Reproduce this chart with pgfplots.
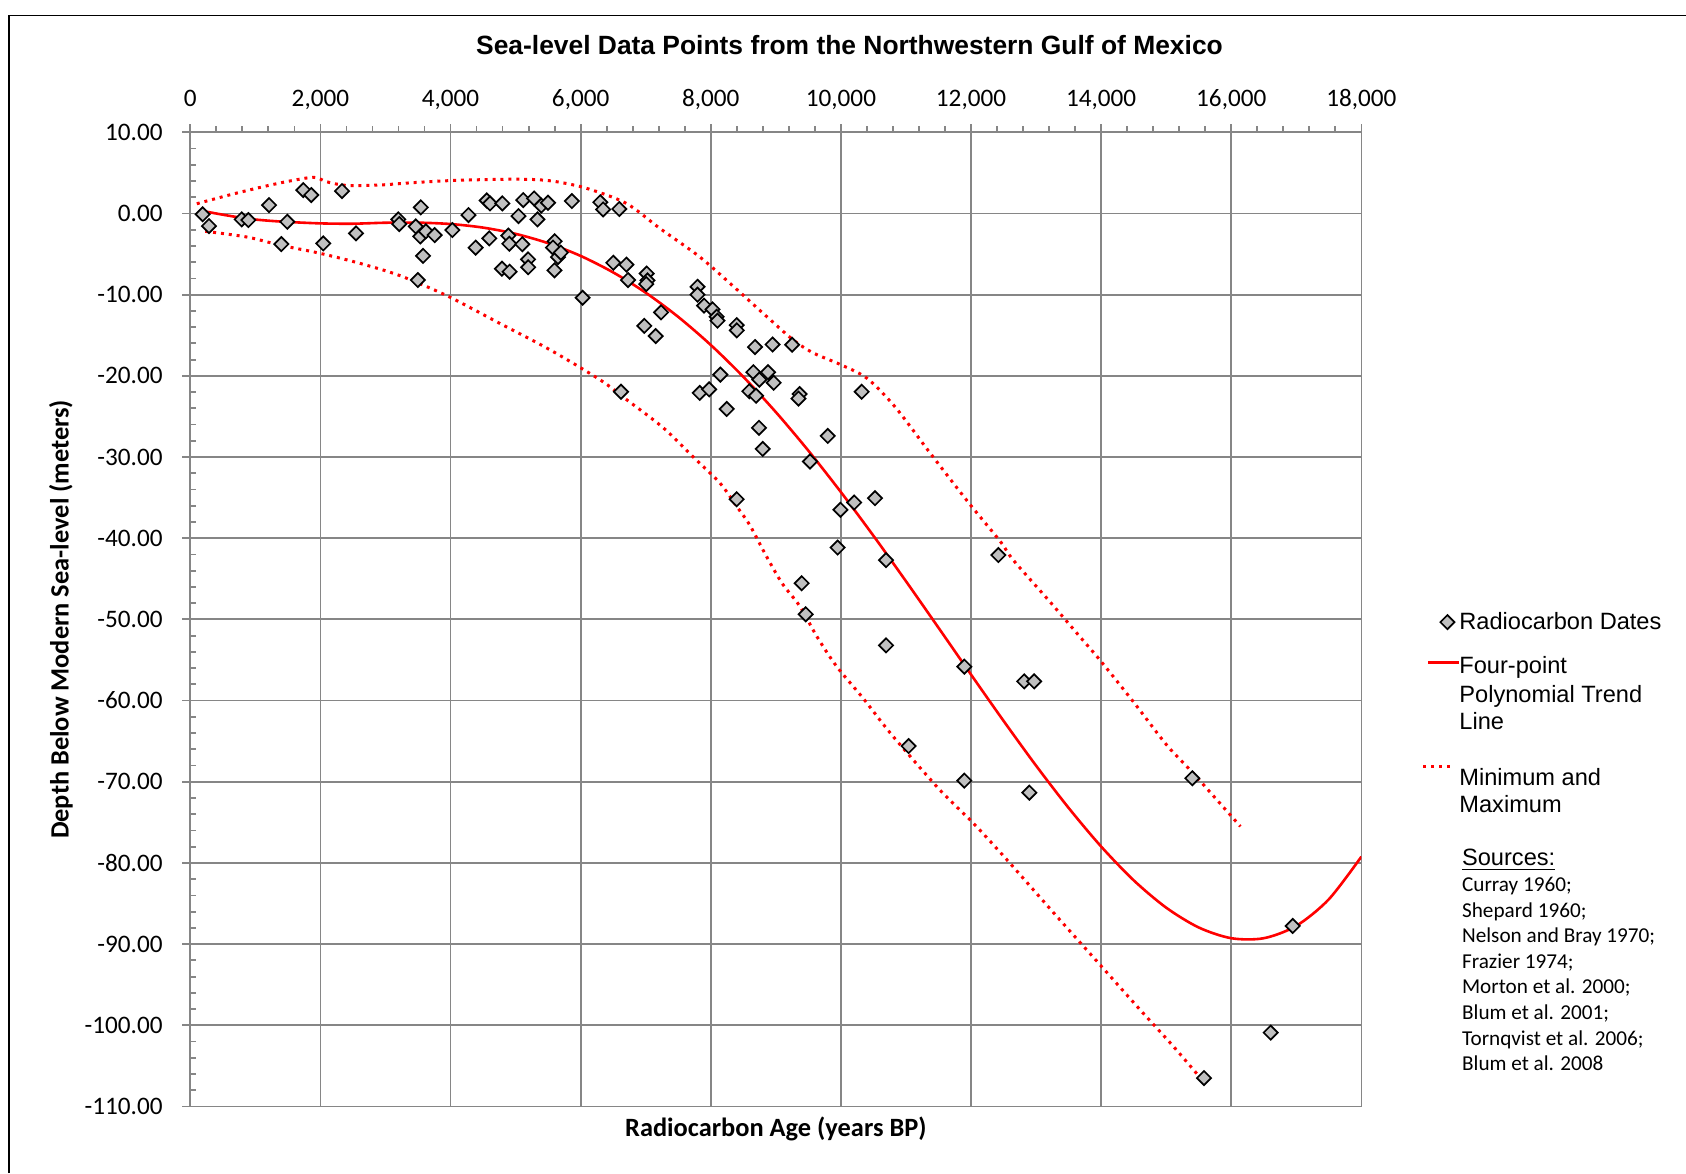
\documentclass[border=0pt]{standalone}
\usepackage{pgfplots}
\usepackage{pgfplotstable}
\pgfplotsset{compat=1.18}
\usepackage{fontspec}
\setmainfont{Carlito}
\newfontfamily\arialfont{Liberation Sans}

\definecolor{gridgray}{RGB}{134,134,134}
\definecolor{markgray}{RGB}{192,192,192}
\definecolor{trendred}{RGB}{255,0,0}

% radiocarbon dates: age (years BP), depth below modern sea level (m)
\pgfplotstableread{
age depth
190 -0.1
287 -1.55
790 -0.73
892 -0.81
1210 1.03
1399 -3.77
1491 -1.02
1737 2.88
1860 2.27
2044 -3.69
2332 2.76
2547 -2.45
3197 -0.73
3212 -1.3
3543 0.75
3466 -1.6
3535 -2.83
3620 -2.2
3756 -2.66
3577 -5.22
3497 -8.2
4028 -2.04
4276 -0.2
4386 -4.21
4556 1.6
4606 1.24
4796 1.24
4596 -3.07
4888 -2.72
4903 -3.73
5045 -0.32
5118 1.65
5103 -3.79
5191 -5.65
5193 -6.62
4790 -6.8
4908 -7.17
5285 1.85
5336 -0.73
5395 0.97
5498 1.32
5600 -3.42
5575 -4.2
5652 -5.37
5695 -4.82
5598 -7.0
5865 1.53
6030 -10.38
6302 1.38
6345 0.5
6594 0.55
6502 -6.07
6703 -6.3
6728 -8.2
7015 -7.4
7027 -8.25
7008 -8.7
6620 -21.96
6978 -13.85
7235 -12.18
7153 -15.1
7796 -9.03
7796 -10.0
7896 -11.35
8027 -11.81
8091 -12.72
8103 -13.2
8398 -13.75
8400 -14.4
8680 -16.45
8950 -16.14
9250 -16.17
8147 -19.85
7830 -22.1
7975 -21.66
8245 -24.08
8654 -19.55
8880 -19.55
8746 -20.47
8966 -20.85
8592 -21.9
8695 -22.45
9365 -22.24
9348 -22.8
10319 -21.96
8741 -26.4
8798 -29.0
9797 -27.4
9525 -30.55
8398 -35.2
9993 -36.5
10204 -35.6
10524 -35.07
9949 -41.15
10693 -42.7
12420 -42.07
9397 -45.55
9459 -49.37
10693 -53.2
11041 -65.6
11897 -55.82
12817 -57.63
12970 -57.63
11897 -69.86
12896 -71.34
15401 -69.57
16944 -87.76
16606 -100.9
15581 -106.5
}\datesTable

% polynomial trend line
\pgfplotstableread{
age depth
160 0.35
500 -0.15
800 -0.55
1000 -0.75
1400 -1.0
2000 -1.22
2500 -1.26
3000 -1.14
3500 -1.13
4000 -1.30
4500 -1.74
5000 -2.51
5500 -3.66
6000 -5.23
6500 -7.26
7000 -9.76
7500 -12.74
8000 -16.20
8500 -20.12
9000 -24.47
9500 -29.22
10000 -34.32
10500 -39.70
11000 -45.30
11500 -51.03
12000 -56.80
12500 -62.50
13000 -68.02
13500 -73.22
14000 -77.98
14500 -82.14
15000 -85.51
15500 -87.95
16000 -89.27
16500 -89.27
17000 -87.74
17500 -84.47
18000 -79.22
}\trendTable

% upper envelope
\pgfplotstableread{
age depth
100 1.2
610 2.3
1120 3.3
1530 4.0
1900 4.45
2100 3.9
2400 3.45
2900 3.5
3430 3.8
4000 4.05
4700 4.2
5220 4.2
5600 3.95
6090 3.1
6700 1.25
7220 -1.85
7830 -5.35
8350 -9.0
8860 -12.7
9270 -15.6
9580 -17.2
9990 -18.6
10400 -20.3
10830 -23.8
11370 -29.5
11960 -35.6
12450 -40.4
12650 -42.7
13220 -47.9
13680 -52.2
13980 -55.0
14490 -60.1
15010 -65.5
15420 -69.0
16140 -75.5
}\maxTable

% lower envelope
\pgfplotstableread{
age depth
230 -2.2
870 -2.9
1380 -3.9
1990 -4.9
2610 -6.15
3220 -7.65
3950 -10.15
4700 -13.3
5530 -16.8
6300 -20.5
6700 -22.9
7270 -26.4
7730 -30.0
8140 -33.2
8400 -36.1
8600 -38.4
8860 -42.3
9100 -45.6
9370 -48.4
9630 -52.1
9935 -55.8
10340 -59.7
10790 -64.3
11520 -71.0
12035 -75.1
12550 -79.6
13320 -86.6
14000 -92.7
14600 -98.1
15110 -102.6
15570 -106.9
}\minTable

\begin{document}
\begin{tikzpicture}
\useasboundingbox (0pt,0pt) rectangle (843pt,586.5pt);
% chart frame
\draw[line width=0.8pt, black] (4.5pt,0pt) -- (4.5pt,578.7pt) -- (843pt,578.7pt);
% title
\node[anchor=base, inner sep=0pt, font=\arialfont\bfseries\fontsize{13.2}{16}\selectfont]
  at (424.75pt,559pt) {Sea-level Data Points from the Northwestern Gulf of Mexico};

\begin{axis}[
  at={(95.15pt,33.25pt)}, anchor=south west,
  scale only axis, width=585.55pt, height=487.1pt,
  xmin=0, xmax=18000, ymin=-110, ymax=10,
  xtick={0,2000,...,18000},
  ytick={-110,-100,...,10},
  minor x tick num=4, minor y tick num=4,
  scaled x ticks=false, scaled y ticks=false,
  xtick pos=right, xticklabel pos=right,
  ytick pos=left, yticklabel pos=left,
  tick align=outside,
  major tick length=4pt, minor tick length=2.9pt,
  every minor y tick/.append style={xshift=2.9pt},
  grid=major,
  major grid style={draw=gridgray, line width=0.9pt},
  axis line style={draw=gridgray, line width=0.9pt},
  tick style={draw=gridgray, line width=0.9pt},
  /pgf/number format/assume math mode=true,
  tick label style={font=\fontsize{12.6}{15}\selectfont},
  xticklabel style={/pgf/number format/1000 sep={,}, anchor=base, inner sep=0pt, yshift=9pt},
  yticklabel style={/pgf/number format/fixed, /pgf/number format/fixed zerofill,
                    /pgf/number format/precision=2, anchor=east, inner sep=0pt, xshift=-9.65pt},
  xlabel={Radiocarbon Age (years BP)},
  ylabel={Depth Below Modern Sea-level (meters)},
  label style={font=\bfseries\fontsize{13.2}{16}\selectfont},
  xlabel style={at={(axis description cs:0.5,0)}, anchor=base, inner sep=0pt, yshift=-14.75pt},
  ylabel style={at={(axis description cs:-0.1106,0.5)}, anchor=center, inner sep=0pt},
  legend style={at={(1.0569,0.50657)}, anchor=north west, draw=none, fill=none,
                inner xsep=0pt, inner ysep=0pt, row sep=0pt, column sep=0pt,
                cells={anchor=west}, nodes={inner sep=0pt, text depth=},
                font=\arialfont\fontsize{11.8}{14}\selectfont},
]

\addplot[only marks, mark=square*, mark size=2.5pt,
  mark options={rotate=45, draw=black, fill=markgray, line width=0.85pt},
  legend image code/.code={%
    \path[draw=none, fill=none] (0pt,0pt) -- (15.5pt,0pt);
    \draw[overlay, only marks, mark=square*, mark size=2.5pt,
      mark options={rotate=45, draw=black, fill=markgray, line width=0.85pt}]
      plot coordinates {(9.5pt,6.725pt)};}]
  table[x=age, y=depth] {\datesTable};
\addlegendentry[text height=8pt, text depth=14.15pt]{Radiocarbon Dates}

\addplot[trendred, line width=1.3pt, smooth, no markers,
  legend image code/.code={%
    \path[draw=none, fill=none] (0pt,0pt) -- (15.5pt,0pt);
    \draw[overlay, trendred, line width=1.3pt] (0pt,4.6pt) -- (15.5pt,4.6pt);}]
  table[x=age, y=depth] {\trendTable};
\addlegendentry[text height=8pt, text depth=6.2pt]{Four-point}

\addlegendimage{empty legend}
\addlegendentry[text height=8pt, text depth=5.8pt]{Polynomial Trend}
\addlegendimage{empty legend}
\addlegendentry[text height=8pt, text depth=19.85pt]{Line}

\addplot[trendred, line width=1.5pt, line cap=butt, dash pattern=on 1.5pt off 2.45pt, smooth, no markers,
  legend image code/.code={%
    \path[draw=none, fill=none] (0pt,0pt) -- (15.5pt,0pt);
    \draw[overlay, trendred, line width=1.5pt, dash pattern=on 1.5pt off 2.45pt]
      (-2.5pt,7.875pt) -- (13pt,7.875pt);}]
  table[x=age, y=depth] {\maxTable};
\addlegendentry[text height=8pt, text depth=5.35pt]{Minimum and}

\addlegendimage{empty legend}
\addlegendentry[text height=8pt, text depth=3pt]{Maximum}

\addplot[trendred, line width=1.5pt, line cap=butt, dash pattern=on 1.5pt off 2.45pt, smooth, no markers, forget plot]
  table[x=age, y=depth] {\minTable};

\end{axis}

% list of sources
\node[anchor=base west, inner sep=0pt] at (730.85pt,153.5pt) {%
  \fontsize{10.6}{12.8}\selectfont
  \begin{tabular}[t]{@{}l@{}}
  {\arialfont\fontsize{11.8}{12.8}\selectfont\underline{Sources:}}\\
  Curray 1960;\\
  Shepard 1960;\\
  Nelson and Bray 1970;\\
  Frazier 1974;\\
  Morton et al. 2000;\\
  Blum et al. 2001;\\
  Tornqvist et al. 2006;\\
  Blum et al. 2008
  \end{tabular}};
\end{tikzpicture}
\end{document}
